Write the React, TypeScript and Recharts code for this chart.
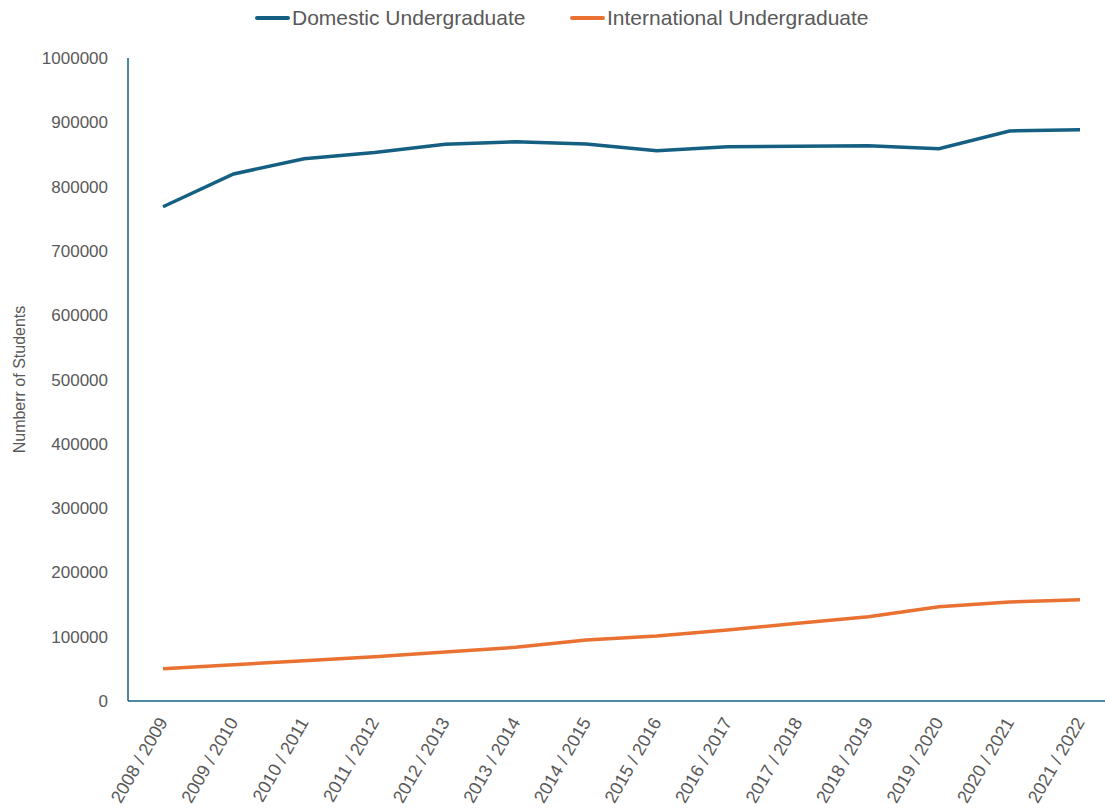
import { CartesianGrid, Line, LineChart, XAxis, YAxis } from 'recharts'

const years = [
  '2008 / 2009', '2009 / 2010', '2010 / 2011', '2011 / 2012', '2012 / 2013', '2013 / 2014', '2014 / 2015',
  '2015 / 2016', '2016 / 2017', '2017 / 2018', '2018 / 2019', '2019 / 2020', '2020 / 2021', '2021 / 2022',
]
const domestic = [768700, 819600, 843400, 853000, 865700, 869800, 866300, 855800, 862000, 862600, 863600, 859000, 886500, 888500]
const international = [50200, 56500, 62700, 68900, 76200, 83500, 94900, 101000, 110400, 120800, 131100, 146700, 154000, 157500]
const yTicks = [0, 100000, 200000, 300000, 400000, 500000, 600000, 700000, 800000, 900000, 1000000]

const data = years.map((year, i) => ({ year, domestic: domestic[i], international: international[i] }))

const BLUE = '#156082'
const ORANGE = '#E97132'
const TEXT = '#595959'
const FONT = '"Liberation Sans", Arial, sans-serif'

function YearTick({ x, y, payload }: { x?: number; y?: number; payload?: { value: string } }) {
  const ty = (y ?? 0) + 10
  return (
    <text
      x={x}
      y={ty}
      transform={`rotate(-60, ${x}, ${ty})`}
      textAnchor="end"
      dominantBaseline="central"
      fill={TEXT}
      fontSize={18}
      fontFamily={FONT}
    >
      {payload?.value}
    </text>
  )
}

function LegendItem({ color, label, left }: { color: string; label: string; left: number }) {
  return (
    <div style={{ position: 'absolute', left, top: 4, display: 'flex', alignItems: 'center', height: 28 }}>
      <span style={{ display: 'inline-block', width: 35, height: 4, borderRadius: 2, background: color, marginRight: 2 }} />
      <span style={{ fontSize: 21, color: TEXT, fontFamily: FONT, whiteSpace: 'nowrap' }}>{label}</span>
    </div>
  )
}

export default function App() {
  return (
    <div style={{ position: 'absolute', left: 0, top: 0, width: 1105, height: 812, overflow: 'hidden', background: '#fff' }}>
      <LegendItem color={BLUE} label="Domestic Undergraduate" left={255} />
      <LegendItem color={ORANGE} label="International Undergraduate" left={570} />
      <LineChart width={1105} height={812} data={data} margin={{ top: 58, right: 0, bottom: 0, left: 0 }}>
        <CartesianGrid stroke="none" />
        <XAxis
          dataKey="year"
          interval={0}
          padding={{ left: 35, right: 25 }}
          axisLine={{ stroke: BLUE, strokeWidth: 1.5 }}
          tickLine={false}
          tick={<YearTick />}
          height={111}
        />
        <YAxis
          width={128}
          domain={[0, 1000000]}
          ticks={yTicks}
          interval={0}
          axisLine={{ stroke: BLUE, strokeWidth: 1.5 }}
          tickLine={false}
          tickMargin={14}
          tick={{ fill: TEXT, fontSize: 17, fontFamily: FONT }}
          label={{
            value: 'Numberr of Students',
            angle: -90,
            position: 'insideLeft',
            offset: 19,
            style: { fill: TEXT, fontSize: 16, fontFamily: FONT, textAnchor: 'middle' },
          }}
        />
        <Line type="linear" dataKey="domestic" stroke={BLUE} strokeWidth={3.5} dot={false} isAnimationActive={false} />
        <Line type="linear" dataKey="international" stroke={ORANGE} strokeWidth={3.5} dot={false} isAnimationActive={false} />
      </LineChart>
    </div>
  )
}
